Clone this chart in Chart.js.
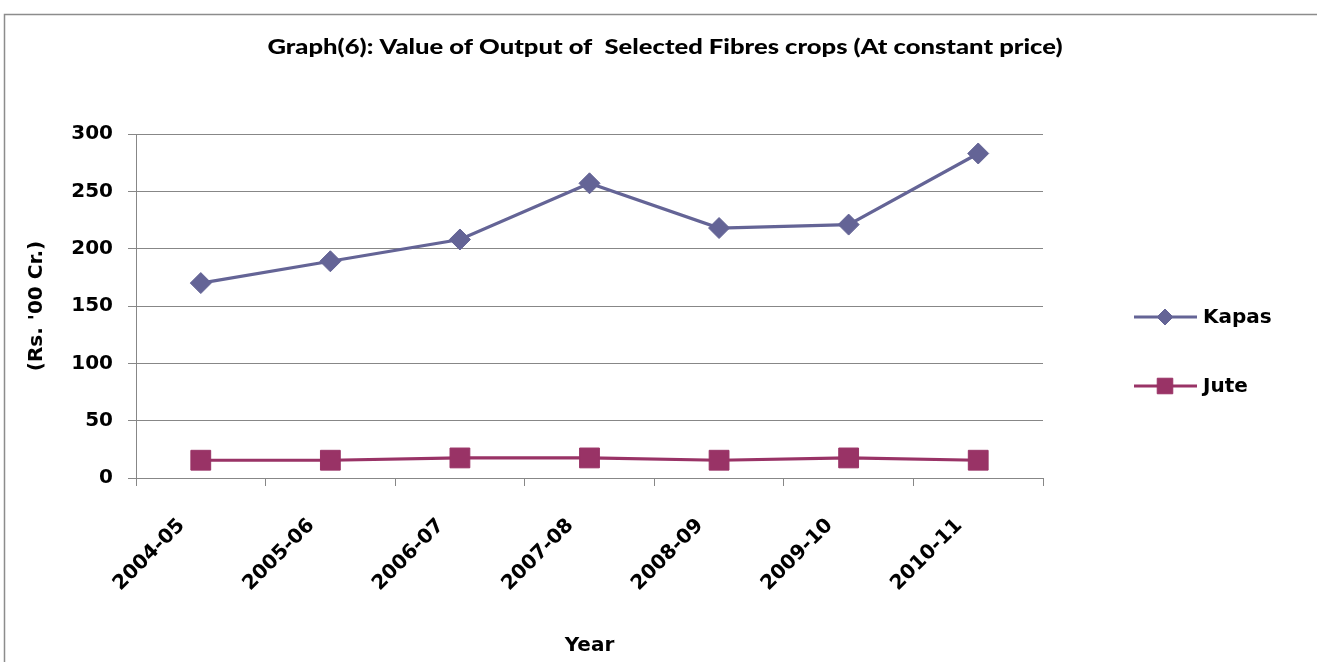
<!DOCTYPE html>
<html>
<head>
<meta charset="utf-8">
<script src="https://cdn.jsdelivr.net/npm/chart.js@4.4.1/dist/chart.umd.min.js"></script>
<style>
  html, body { margin: 0; padding: 0; background: #fff; }
  #wrap { position: relative; width: 1317px; height: 662px; }
  canvas { display: block; }
</style>
</head>
<body>
<div id="wrap"><canvas id="c" width="1317" height="662"></canvas></div>
<script>
const categories = ['2004-05', '2005-06', '2006-07', '2007-08', '2008-09', '2009-10', '2010-11'];
const kapasValues = [170, 189, 208, 257, 218, 221, 283];
const juteValues = [15.5, 15.5, 17.5, 17.5, 15.5, 17.5, 15.5];
const yTicks = [0, 50, 100, 150, 200, 250, 300];
const chartTitle = "Graph(6): Value of Output of  Selected Fibres crops (At constant price)";
const yTitle = "(Rs. '00 Cr.)";
const xTitle = "Year";

const FONT = "'DejaVu Sans', 'Open Sans', sans-serif";
const TITLE_FONT = "Lato, 'Open Sans', sans-serif";
const GRID = '#878787';
const KAPAS = '#646496';
const JUTE = '#993366';

const framePlugin = {
  id: 'frame',
  beforeDraw(chart) {
    const ctx = chart.ctx;
    ctx.save();
    ctx.fillStyle = '#ffffff';
    ctx.fillRect(0, 0, chart.width, chart.height);
    ctx.strokeStyle = '#8c8c8c';
    ctx.lineWidth = 1.5;
    ctx.beginPath();
    ctx.moveTo(4.5, chart.height + 2);
    ctx.lineTo(4.5, 14.5);
    ctx.lineTo(chart.width + 2, 14.5);
    ctx.stroke();
    ctx.restore();
  }
};

const titlePlugin = {
  id: 'customTitle',
  afterDraw(chart) {
    const ctx = chart.ctx;
    ctx.save();
    ctx.font = '900 21px ' + TITLE_FONT;
    ctx.fillStyle = '#000';
    ctx.textBaseline = 'middle';
    ctx.textAlign = 'center';
    const w = ctx.measureText(chartTitle).width;
    const targetW = 795;
    ctx.translate(665, 47);
    ctx.scale(targetW / w, 1);
    ctx.fillText(chartTitle, 0, 0);
    ctx.restore();
  }
};

const legendPlugin = {
  id: 'customLegend',
  afterDraw(chart) {
    const ctx = chart.ctx;
    const rows = [317, 386];
    const radii = [8, 11];
    chart.data.datasets.forEach((ds, i) => {
      const y = rows[i];
      ctx.save();
      ctx.strokeStyle = ds.borderColor;
      ctx.lineWidth = 3;
      ctx.beginPath();
      ctx.moveTo(1134, y);
      ctx.lineTo(1197, y);
      ctx.stroke();
      ctx.fillStyle = ds.pointBackgroundColor;
      ctx.strokeStyle = ds.pointBorderColor;
      ctx.lineWidth = 1;
      Chart.helpers.drawPoint(ctx, { pointStyle: ds.pointStyle, radius: radii[i], rotation: 0, borderWidth: 1 }, 1165, y);
      ctx.fillStyle = '#000';
      ctx.font = 'bold 20px ' + FONT;
      ctx.textBaseline = 'middle';
      ctx.textAlign = 'left';
      ctx.fillText(ds.label, 1203, y + 1);
      ctx.restore();
    });
  }
};

new Chart(document.getElementById('c'), {
  type: 'line',
  data: {
    labels: categories,
    datasets: [
      {
        label: 'Kapas',
        data: kapasValues,
        borderColor: KAPAS,
        backgroundColor: KAPAS,
        pointBackgroundColor: KAPAS,
        pointBorderColor: KAPAS,
        borderWidth: 3.2,
        pointStyle: 'rectRot',
        pointRadius: 10.5,
        pointBorderWidth: 1,
        tension: 0
      },
      {
        label: 'Jute',
        data: juteValues,
        borderColor: JUTE,
        backgroundColor: JUTE,
        pointBackgroundColor: JUTE,
        pointBorderColor: JUTE,
        borderWidth: 3.2,
        pointStyle: 'rect',
        pointRadius: 14,
        pointBorderWidth: 1,
        tension: 0
      }
    ]
  },
  options: {
    responsive: false,
    animation: false,
    layout: { padding: { top: 134, right: 274, bottom: 0, left: 0 } },
    plugins: {
      legend: { display: false },
      title: { display: false },
      tooltip: { enabled: false }
    },
    scales: {
      x: {
        type: 'category',
        offset: true,
        afterFit(scale) { scale.height = 184; },
        grid: {
          display: true,
          offset: true,
          drawOnChartArea: false,
          drawTicks: true,
          tickLength: 8,
          color: GRID,
          lineWidth: 1
        },
        border: { display: true, color: GRID, width: 1 },
        ticks: {
          maxRotation: 45,
          minRotation: 45,
          autoSkip: false,
          labelOffset: -19,
          padding: 28,
          color: '#000',
          font: { family: FONT, size: 20, weight: 'bold' }
        },
        title: {
          display: true,
          text: xTitle,
          color: '#000',
          font: { family: FONT, size: 20, weight: 'bold' },
          padding: { top: 0, bottom: 4 }
        }
      },
      y: {
        min: 0,
        max: 300,
        afterFit(scale) { scale.width = 136; },
        afterBuildTicks(scale) { scale.ticks = yTicks.map(v => ({ value: v })); },
        grid: {
          display: true,
          drawOnChartArea: true,
          drawTicks: true,
          tickLength: 8,
          color: GRID,
          lineWidth: 1
        },
        border: { display: true, color: GRID, width: 1 },
        ticks: {
          padding: 15,
          color: '#000',
          font: { family: FONT, size: 20, weight: 'bold' }
        },
        title: {
          display: true,
          text: yTitle,
          color: '#000',
          font: { family: FONT, size: 20, weight: 'bold' },
          padding: { top: 25, bottom: 0 }
        }
      }
    }
  },
  plugins: [framePlugin, titlePlugin, legendPlugin]
});
</script>
</body>
</html>
